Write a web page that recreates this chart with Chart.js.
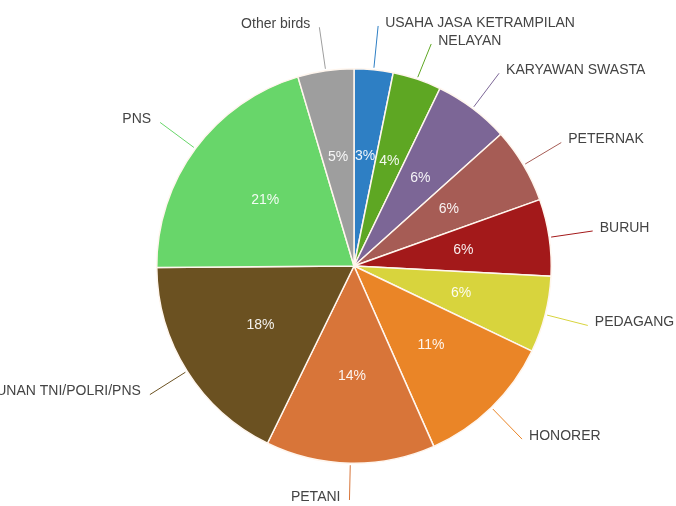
<!DOCTYPE html>
<html>
<head>
<meta charset="utf-8">
<script src="https://cdn.jsdelivr.net/npm/chart.js@4"></script>
<style>
  body { margin: 0; background: #fff; }
  canvas { display: block; }
</style>
</head>
<body>
<canvas id="pieChart" width="676" height="506"></canvas>
<script>
// Data pekerjaan (urutan searah jarum jam dari atas)
const labels = [
  'USAHA JASA KETRAMPILAN', 'NELAYAN', 'KARYAWAN SWASTA', 'PETERNAK', 'BURUH',
  'PEDAGANG', 'HONORER', 'PETANI', 'PENSIUNAN TNI/POLRI/PNS', 'PNS', 'Other birds'
];
const values = [3.2, 4.0, 6.2, 6.2, 6.3, 6.3, 11.3, 13.9, 17.7, 20.6, 4.6];
const colors = [
  '#2e7fc4', '#5ea723', '#7c6696', '#a65c55', '#a3191a',
  '#d8d43d', '#ea8527', '#d87539', '#6b5121', '#68d66a', '#9e9e9e'
];

// Plugin untuk label di luar dan persen di dalam irisan
const pieLabels = {
  id: 'pieLabels',
  afterDatasetsDraw(chart) {
    const ctx = chart.ctx;
    const meta = chart.getDatasetMeta(0);
    const total = values.reduce((a, b) => a + b, 0);
    ctx.save();
    ctx.font = '14px "Liberation Sans", Arial, sans-serif';

    // hitung posisi label dulu
    const items = meta.data.map((arc, i) => {
      const mid = (arc.startAngle + arc.endAngle) / 2;
      const cos = Math.cos(mid), sin = Math.sin(mid);
      const r = arc.outerRadius;
      const x2 = arc.x + cos * (r + 44);
      let y2 = arc.y + sin * (r + 44);
      y2 = Math.min(Math.max(y2, 20), chart.height - 6);
      return { arc, i, cos, sin, r, x2, y2, right: cos >= 0 && mid < Math.PI };
    });

    // geser label kanan supaya tidak bertumpuk
    const rightSide = items.filter(d => d.right).sort((a, b) => a.y2 - b.y2);
    for (let k = 1; k < rightSide.length; k++) {
      if (rightSide[k].y2 < rightSide[k - 1].y2 + 18) rightSide[k].y2 = rightSide[k - 1].y2 + 18;
    }

    items.forEach(d => {
      const { arc, i, cos, sin, r, x2, y2, right } = d;

      // persen
      ctx.fillStyle = 'rgba(255,255,255,0.92)';
      ctx.textAlign = 'center';
      ctx.textBaseline = 'middle';
      const pct = Math.round(values[i] / total * 100) + '%';
      ctx.fillText(pct, arc.x + cos * r * 0.56, arc.y + sin * r * 0.56);

      // garis penghubung
      const x1 = arc.x + cos * (r + 2), y1 = arc.y + sin * (r + 2);
      ctx.strokeStyle = colors[i];
      ctx.lineWidth = 1;
      ctx.beginPath();
      ctx.moveTo(x1, y1);
      ctx.lineTo(x2, y2);
      ctx.stroke();

      ctx.fillStyle = '#444';
      ctx.textAlign = right ? 'left' : 'right';
      ctx.fillText(labels[i], x2 + (right ? 7 : -9), y2 - 3);
    });
    ctx.restore();
  }
};

new Chart(document.getElementById('pieChart'), {
  type: 'pie',
  data: {
    labels: labels,
    datasets: [{
      data: values,
      backgroundColor: colors,
      borderColor: '#fff6ee',
      borderWidth: 1.5
    }]
  },
  options: {
    responsive: false,
    animation: false,
    layout: { padding: { left: 156, right: 124, top: 68, bottom: 42 } },
    plugins: {
      legend: { display: false },
      tooltip: { enabled: false }
    }
  },
  plugins: [pieLabels]
});
</script>
</body>
</html>
